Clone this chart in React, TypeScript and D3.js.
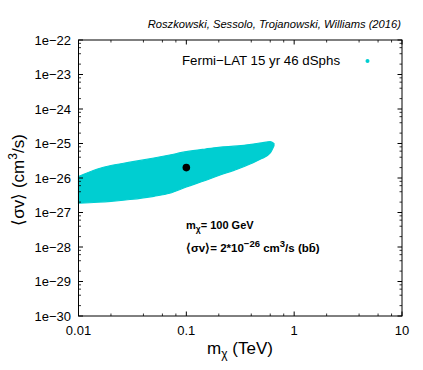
import React from "react";
import * as d3 from "d3";

const massTeV = [0.01, 0.015, 0.02, 0.03, 0.05, 0.07, 0.1, 0.15, 0.2, 0.3, 0.4, 0.5, 0.6, 0.65];
const upperSigmaV = [1.1e-26, 1.82e-26, 2.3e-26, 2.87e-26, 3.8e-26, 4.64e-26, 5.78e-26, 6.93e-26, 7.76e-26, 8.51e-26, 9.48e-26, 1.05e-25, 1.13e-25, 1.0e-25];
const lowerSigmaV = [1.85e-27, 1.98e-27, 2.11e-27, 2.38e-27, 2.95e-27, 3.61e-27, 5.48e-27, 8.47e-27, 1.18e-26, 1.82e-26, 2.63e-26, 3.67e-26, 5.31e-26, 8.6e-26];
const benchmark = { mass: 0.1, sigmaV: 2e-26 };
const xTicks = [0.01, 0.1, 1, 10];
const xTickLabels = ["0.01", "0.1", "1", "10"];
const yTicks = [1e-22, 1e-23, 1e-24, 1e-25, 1e-26, 1e-27, 1e-28, 1e-29, 1e-30];
const yTickLabels = ["1e\u221222", "1e\u221223", "1e\u221224", "1e\u221225", "1e\u221226", "1e\u221227", "1e\u221228", "1e\u221229", "1e\u221230"];
const minorMultipliers = [2, 4, 6, 8];
const legendLabel = "Fermi\u2212LAT 15 yr 46 dSphs";
const credit = "Roszkowski, Sessolo, Trojanowski, Williams (2016)";

const W = 423, H = 370;
const L = 78.5, R = 402, T = 40, B = 316;
const CYAN = "#00ced1";
const FONT = "'Liberation Sans', Arial, Helvetica, sans-serif";

export default function App() {
  const x = d3.scaleLog().domain([0.01, 10]).range([L, R]);
  const y = d3.scaleLog().domain([1e-30, 1e-22]).range([B, T]);

  const band = massTeV.map((m, i) => ({ m, lo: lowerSigmaV[i], hi: upperSigmaV[i] }));
  const area = d3
    .area<{ m: number; lo: number; hi: number }>()
    .x((d) => x(d.m))
    .y0((d) => y(d.lo))
    .y1((d) => y(d.hi))
    .curve(d3.curveMonotoneX);

  const xMinor: number[] = [];
  [0.01, 0.1, 1].forEach((dec) => minorMultipliers.forEach((k) => xMinor.push(dec * k)));
  const yMinor: number[] = [];
  [1e-30, 1e-29, 1e-28, 1e-27, 1e-26, 1e-25, 1e-24, 1e-23].forEach((dec) =>
    minorMultipliers.forEach((k) => yMinor.push(dec * k))
  );

  const major = 4.5, minor = 2.5;
  const tickStroke = "#000";

  return (
    <svg width={W} height={H} viewBox={`0 0 ${W} ${H}`} style={{ display: "block", background: "#fff" }}>
      <style>{`body{margin:0}`}</style>
      <rect x={0} y={0} width={W} height={H} fill="#fff" />
      {/* credit */}
      <text x={401} y={28} textAnchor="end" fontFamily={FONT} fontStyle="italic" fontSize={11.2} fill="#000">
        {credit}
      </text>

      {/* data band */}
      <path d={area(band) || ""} fill={CYAN} stroke={CYAN} strokeWidth={1.2} strokeLinejoin="miter" />

      {/* benchmark */}
      <circle cx={x(benchmark.mass)} cy={y(benchmark.sigmaV)} r={3.8} fill="#000" />

      {/* frame */}
      <rect x={L} y={T} width={R - L} height={B - T} fill="none" stroke="#000" strokeWidth={1} />

      {/* x ticks */}
      {xTicks.map((v, i) => (
        <g key={"xt" + i}>
          <line x1={x(v)} x2={x(v)} y1={B} y2={B - major} stroke={tickStroke} />
          <line x1={x(v)} x2={x(v)} y1={T} y2={T + major} stroke={tickStroke} />
          <text x={x(v)} y={335} textAnchor="middle" fontFamily={FONT} fontSize={13} fill="#000">
            {xTickLabels[i]}
          </text>
        </g>
      ))}
      {xMinor.map((v, i) => (
        <g key={"xm" + i}>
          <line x1={x(v)} x2={x(v)} y1={B} y2={B - minor} stroke={tickStroke} strokeWidth={0.8} />
          <line x1={x(v)} x2={x(v)} y1={T} y2={T + minor} stroke={tickStroke} strokeWidth={0.8} />
        </g>
      ))}

      {/* y ticks */}
      {yTicks.map((v, i) => (
        <g key={"yt" + i}>
          <line x1={L} x2={L + major} y1={y(v)} y2={y(v)} stroke={tickStroke} />
          <line x1={R} x2={R - major} y1={y(v)} y2={y(v)} stroke={tickStroke} />
          <text x={71} y={y(v) + 4.5} textAnchor="end" fontFamily={FONT} fontSize={13} fill="#000">
            {yTickLabels[i]}
          </text>
        </g>
      ))}
      {yMinor.map((v, i) => (
        <g key={"ym" + i}>
          <line x1={L} x2={L + minor} y1={y(v)} y2={y(v)} stroke={tickStroke} strokeWidth={0.8} />
          <line x1={R} x2={R - minor} y1={y(v)} y2={y(v)} stroke={tickStroke} strokeWidth={0.8} />
        </g>
      ))}

      {/* legend */}
      <text x={182} y={64.5} fontFamily={FONT} fontSize={13.3} fill="#000">
        {legendLabel}
      </text>
      <circle cx={367.5} cy={61} r={2} fill={CYAN} />

      {/* annotation */}
      <text x={186} y={229} fontFamily={FONT} fontSize={11} fontWeight="bold" fill="#000">
        m<tspan fontSize={8.5} dy={3}>χ</tspan>
        <tspan dy={-3}>= 100 GeV</tspan>
      </text>
      <text x={186} y={252} fontFamily={FONT} fontSize={11.5} fontWeight="bold" fill="#000">
        ⟨σv⟩= 2*10<tspan fontSize={9.5} dy={-5}>−26</tspan>
        <tspan dy={5}> cm</tspan>
        <tspan fontSize={9.5} dy={-5}>3</tspan>
        <tspan dy={5}>/s (bb̄)</tspan>
      </text>

      {/* axis titles */}
      <text x={240} y={354} textAnchor="middle" fontFamily={FONT} fontSize={17} fill="#000">
        m<tspan fontSize={12} dy={4}>χ</tspan>
        <tspan dy={-4}> (TeV)</tspan>
      </text>
      <text
        transform={`translate(24,180) rotate(-90)`}
        textAnchor="middle"
        fontFamily={FONT}
        fontSize={17}
        fill="#000"
      >
        ⟨σv⟩ (cm<tspan fontSize={12} dy={-7}>3</tspan>
        <tspan dy={7}>/s)</tspan>
      </text>
    </svg>
  );
}
